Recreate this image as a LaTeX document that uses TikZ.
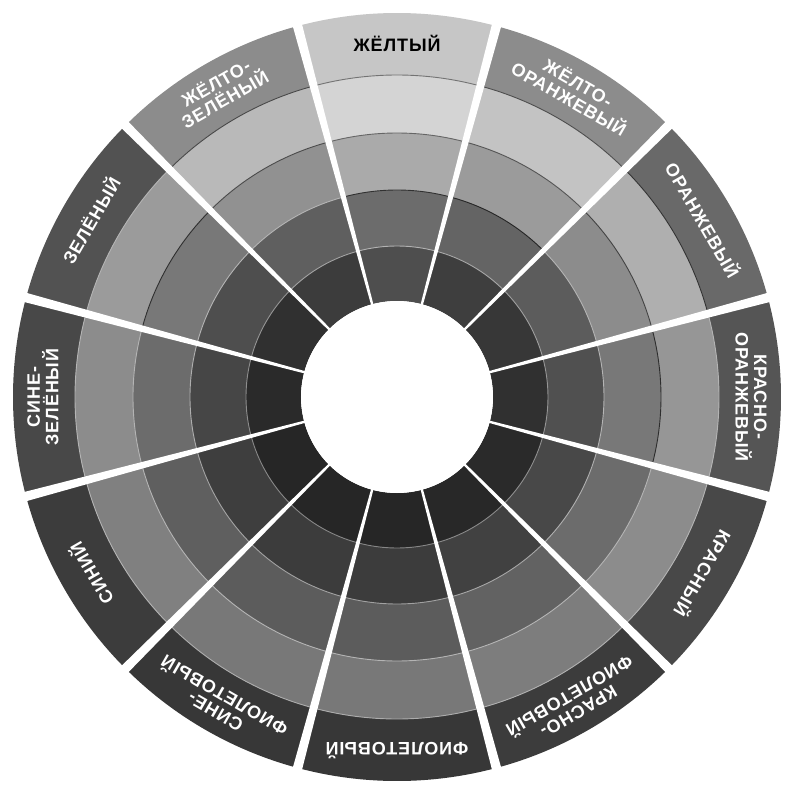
\documentclass[tikz,border=0pt]{standalone}
\usepackage{fontspec}
\newfontfamily\lblfont{Liberation Sans}[LetterSpace=5]
\newcommand\wcell[4]{%
  \definecolor{cellc}{RGB}{#4,#4,#4}%
  \fill[cellc] (#1-15:#2) arc[start angle=#1-15,end angle=#1+15,radius=#2]
    -- (#1+15:#3) arc[start angle=#1+15,end angle=#1-15,radius=#3] -- cycle;}
\newcommand\wbound[4]{%
  \pgfmathtruncatemacro\mm{(#3+#4)/2}%
  \pgfmathtruncatemacro\lc{\mm>125 ? \mm-90 : min(\mm+85,180)}%
  \definecolor{linec}{RGB}{\lc,\lc,\lc}%
  \draw[linec,line width=0.9pt] (#1-15:#2) arc[start angle=#1-15,end angle=#1+15,radius=#2];}
\tikzset{
  lbl/.style={font=\lblfont\bfseries\fontsize{18}{18.5}\selectfont,
    align=center, inner sep=0pt},
  sep/.style={fill=white},
}
\begin{document}
\begin{tikzpicture}[x=1pt,y=1pt]
\useasboundingbox (-397,-391) rectangle (388,397);
\fill[white] (-397,-391) rectangle (388,397);
% cells and ring boundaries
\foreach \a/\ga/\gb/\gc/\gd/\ge in {
  90/198/212/170/108/78,
  60/140/195/155/100/62,
  30/105/175/140/92/55,
  0/85/150/120/80/48,
  -30/72/140/108/72/42,
  -60/60/125/98/65/40,
  -90/55/120/92/60/38,
  -120/55/120/92/60/38,
  -150/60/128/95/62/38,
  180/72/140/108/70/42,
  150/82/155/120/78/48,
  120/140/185/145/95/60}{
  \wcell{\a}{322}{384}{\ga}
  \wcell{\a}{264}{322}{\gb}
  \wcell{\a}{207}{264}{\gc}
  \wcell{\a}{151}{207}{\gd}
  \wcell{\a}{96}{151}{\ge}
  \wbound{\a}{322}{\ga}{\gb}
  \wbound{\a}{264}{\gb}{\gc}
  \wbound{\a}{207}{\gc}{\gd}
  \wbound{\a}{151}{\gd}{\ge}
}
% white separators
\foreach \b in {15,45,...,345}{
  \fill[sep] (0,0) -- (\b-0.7:392) arc[start angle=\b-0.7,end angle=\b+0.7,radius=392] -- cycle;
}
% inner white disc
\fill[white] (0,0) circle[radius=96];
% labels
\foreach \a/\t/\tc [count=\i] in {
  90/{ЖЁЛТЫЙ}/black,
  60/{ЖЁЛТО-\\ОРАНЖЕВЫЙ}/white,
  30/{ОРАНЖЕВЫЙ}/white,
  0/{КРАСНО-\\ОРАНЖЕВЫЙ}/white,
  -30/{КРАСНЫЙ}/white,
  -60/{КРАСНО-\\ФИОЛЕТОВЫЙ}/white,
  -90/{ФИОЛЕТОВЫЙ}/white,
  -120/{СИНЕ-\\ФИОЛЕТОВЫЙ}/white,
  -150/{СИНИЙ}/white,
  180/{СИНЕ-\\ЗЕЛЁНЫЙ}/white,
  150/{ЗЕЛЁНЫЙ}/white,
  120/{ЖЁЛТО-\\ЗЕЛЁНЫЙ}/white}{
  \node[lbl, text=\tc, rotate=\a-90] (lbl\i) at (\a:354) {\t};
}
\end{tikzpicture}
\end{document}
